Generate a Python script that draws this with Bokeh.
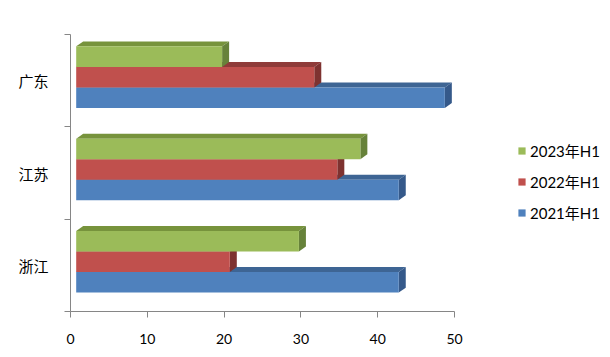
from bokeh.plotting import figure
from bokeh.models import Range1d, FixedTicker, Legend, LegendItem, ColumnDataSource
from bokeh.embed import file_html
from bokeh.resources import INLINE

# ---- data ----
categories = ["浙江", "江苏", "广东"]          # bottom to top
series_names = ["2021年H1", "2022年H1", "2023年H1"]
v2021 = [42, 42, 48]
v2022 = [20, 34, 31]
v2023 = [29, 37, 19]
x_ticks = [0, 10, 20, 30, 40, 50]

series_values = [v2021, v2022, v2023]
front_colors = ["#4F81BD", "#C0504D", "#9BBB59"]
top_colors = ["#3E6594", "#8F3B39", "#77933C"]
side_colors = ["#35598A", "#7E3230", "#67823A"]

# 3D geometry (styling constants)
BAR_H = 0.2223   # bar thickness in band units
LIFT = 0.038     # front face lift above band centre
SHIFT = 0.742    # front face shift along value axis
DX = 0.911       # depth offset in value units
DY = 0.054       # depth offset in band units

p = figure(frame_width=384, frame_height=277, x_range=Range1d(0, 50), y_range=Range1d(0, 3),
           output_backend="svg", toolbar_location=None,
           min_border_left=70, min_border_right=156,
           min_border_top=34, min_border_bottom=46)
p.outline_line_color = None
p.xgrid.visible = False
p.ygrid.visible = False
p.background_fill_color = "white"
p.border_fill_color = "white"

legend_refs = {}
for k, vals in enumerate(series_values):
    x0s, x1s, y0s, y1s = [], [], [], []
    top_xs, top_ys, side_xs, side_ys = [], [], [], []
    for i, v in enumerate(vals):
        y0 = i + 0.5 + LIFT + (k - 1.5) * BAR_H
        y1 = y0 + BAR_H
        x0 = SHIFT
        x1 = SHIFT + v
        x0s.append(x0); x1s.append(x1); y0s.append(y0); y1s.append(y1)
        top_xs.append([x0, x1, x1 + DX, x0 + DX])
        top_ys.append([y1, y1, y1 + DY, y1 + DY])
        side_xs.append([x1, x1, x1 + DX, x1 + DX])
        side_ys.append([y0, y1, y1 + DY, y0 + DY])
    p.patches(xs=top_xs, ys=top_ys, fill_color=top_colors[k], line_color=None)
    p.patches(xs=side_xs, ys=side_ys, fill_color=side_colors[k], line_color=None)
    src = ColumnDataSource(dict(left=x0s, right=x1s, bottom=y0s, top=y1s))
    r = p.quad(left="left", right="right", bottom="bottom", top="top", source=src,
               fill_color=front_colors[k], line_color=None)
    legend_refs[k] = r

axis_color = "#868686"

# left (category) axis
ya = p.yaxis[0]
ya.ticker = FixedTicker(ticks=[i + 0.5 for i in range(len(categories))],
                        minor_ticks=[float(i) for i in range(len(categories) + 1)])
ya.major_label_overrides = {i + 0.5: c for i, c in enumerate(categories)}
ya.major_tick_out = 0
ya.major_tick_in = 0
ya.minor_tick_out = 6
ya.minor_tick_in = 0
ya.minor_tick_line_color = axis_color
ya.axis_line_color = axis_color
ya.major_label_standoff = 16
ya.major_label_text_font = "Noto Sans CJK SC"
ya.major_label_text_font_size = "15px"
ya.major_label_text_color = "black"

# bottom (value) axis
xa = p.xaxis[0]
xa.ticker = FixedTicker(ticks=x_ticks, minor_ticks=[])
xa.major_tick_out = 6
xa.major_tick_in = 0
xa.minor_tick_out = 0
xa.minor_tick_in = 0
xa.major_tick_line_color = axis_color
xa.axis_line_color = axis_color
xa.major_label_standoff = 16
xa.major_label_text_font = "Lato"
xa.major_label_text_font_size = "14px"
xa.major_label_text_color = "black"

items = [LegendItem(label=series_names[k], renderers=[legend_refs[k]]) for k in [2, 1, 0]]
legend = Legend(items=items, location=(63, 88), padding=0, margin=0,
                border_line_color=None, background_fill_alpha=0,
                glyph_width=9, glyph_height=9, label_standoff=4, spacing=10,
                label_height=20,
                label_text_font="Lato, 'Noto Sans CJK SC'", label_text_font_size="15px",
                label_text_color="black")
p.add_layout(legend, "right")

open("out.html", "w").write(file_html(p, INLINE))
